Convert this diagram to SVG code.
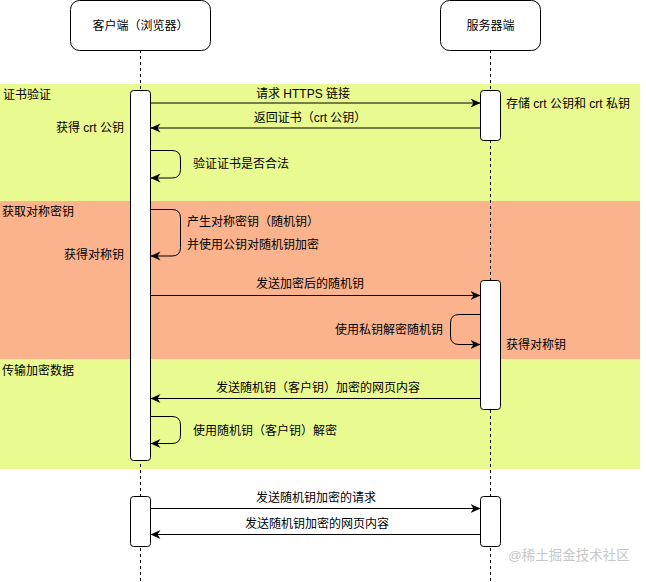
<svg xmlns="http://www.w3.org/2000/svg" width="646" height="582" viewBox="0 0 646 582">
<style>
text{font-family:"Liberation Sans","Noto Sans CJK SC",sans-serif;font-size:12px;fill:#000;dominant-baseline:central}
.head{fill:#fff;stroke:#000;stroke-width:1}
.act{fill:#fff;stroke:#000;stroke-width:1}
.life{stroke:#000;stroke-width:1;stroke-dasharray:3,3;fill:none}
.msg{stroke:#000;stroke-width:1;fill:none}
.m{text-anchor:middle}
.e{text-anchor:end}
</style>
<defs>
<marker id="arr" markerUnits="userSpaceOnUse" markerWidth="12" markerHeight="10" refX="10" refY="4.5" orient="auto">
<path d="M0,0 L10,4.5 L0,9 L3,4.5 Z" fill="#000"/>
</marker>
</defs>
<g id="bands">
<rect x="0" y="84" width="640" height="117" fill="#E9FA90"/>
<rect x="0" y="201" width="640" height="158" fill="#FAB38D"/>
<rect x="0" y="359" width="640" height="110" fill="#E9FA90"/>
<text x="3" y="95">证书验证</text>
<text x="2" y="212">获取对称密钥</text>
<text x="2" y="371">传输加密数据</text>
</g>
<g id="lifelines">
<line class="life" x1="140.5" y1="50" x2="140.5" y2="582"/>
<line class="life" x1="490.5" y1="50" x2="490.5" y2="582"/>
</g>
<g id="client">
<rect class="head" x="70.5" y="0.5" width="140" height="50" rx="9"/>
<text class="m" x="140.5" y="26">客户端（浏览器）</text>
</g>
<g id="server">
<rect class="head" x="440.5" y="0.5" width="100" height="50" rx="9"/>
<text class="m" x="490.5" y="26">服务器端</text>
</g>
<g id="activations">
<rect class="act" x="130.5" y="90.5" width="20" height="370" rx="3"/>
<rect class="act" x="480.5" y="90.5" width="20" height="50" rx="3"/>
<rect class="act" x="480.5" y="280.5" width="20" height="129" rx="3"/>
<rect class="act" x="130.5" y="496.5" width="20" height="50" rx="3"/>
<rect class="act" x="480.5" y="496.5" width="20" height="50" rx="3"/>
</g>
<g id="connectors">
<line class="msg" x1="150.5" y1="103" x2="480.5" y2="103" marker-end="url(#arr)"/>
<line class="msg" x1="480.5" y1="128" x2="150.5" y2="128" marker-end="url(#arr)"/>
<path class="msg" d="M150.5,150.5 H172 Q180.5,150.5 180.5,159 V169.5 Q180.5,178 172,178 H150.5" marker-end="url(#arr)"/>
<path class="msg" d="M150.5,209.5 H172 Q180.5,209.5 180.5,218 V247.5 Q180.5,256 172,256 H150.5" marker-end="url(#arr)"/>
<line class="msg" x1="150.5" y1="295.5" x2="480.5" y2="295.5" marker-end="url(#arr)"/>
<path class="msg" d="M480.5,314.5 H459 Q450.5,314.5 450.5,323 V336 Q450.5,344.5 459,344.5 H480.5" marker-end="url(#arr)"/>
<line class="msg" x1="480.5" y1="398.5" x2="150.5" y2="398.5" marker-end="url(#arr)"/>
<path class="msg" d="M150.5,416.5 H172 Q180.5,416.5 180.5,425 V435 Q180.5,443.5 172,443.5 H150.5" marker-end="url(#arr)"/>
<line class="msg" x1="150.5" y1="508.5" x2="480.5" y2="508.5" marker-end="url(#arr)"/>
<line class="msg" x1="480.5" y1="534.5" x2="150.5" y2="534.5" marker-end="url(#arr)"/>
</g>
<g id="labels">
<text class="m" x="303" y="94">请求 HTTPS 链接</text>
<text x="506" y="104">存储 crt 公钥和 crt 私钥</text>
<text class="m" x="310" y="118">返回证书（crt 公钥）</text>
<text class="e" x="124" y="128">获得 crt 公钥</text>
<text x="193" y="164">验证证书是否合法</text>
<text x="187" y="222">产生对称密钥（随机钥）</text>
<text x="187" y="245">并使用公钥对随机钥加密</text>
<text class="e" x="124" y="255">获得对称钥</text>
<text class="m" x="310" y="284">发送加密后的随机钥</text>
<text class="e" x="443" y="330">使用私钥解密随机钥</text>
<text x="506" y="345">获得对称钥</text>
<text class="m" x="318" y="388">发送随机钥（客户钥）加密的网页内容</text>
<text x="193" y="431">使用随机钥（客户钥）解密</text>
<text class="m" x="316" y="498">发送随机钥加密的请求</text>
<text class="m" x="317" y="524">发送随机钥加密的网页内容</text>
</g>
<g id="watermark">
<text x="508" y="555" style="font-size:13.5px;fill:#c8c8c8">@稀土掘金技术社区</text>
</g>
</svg>
